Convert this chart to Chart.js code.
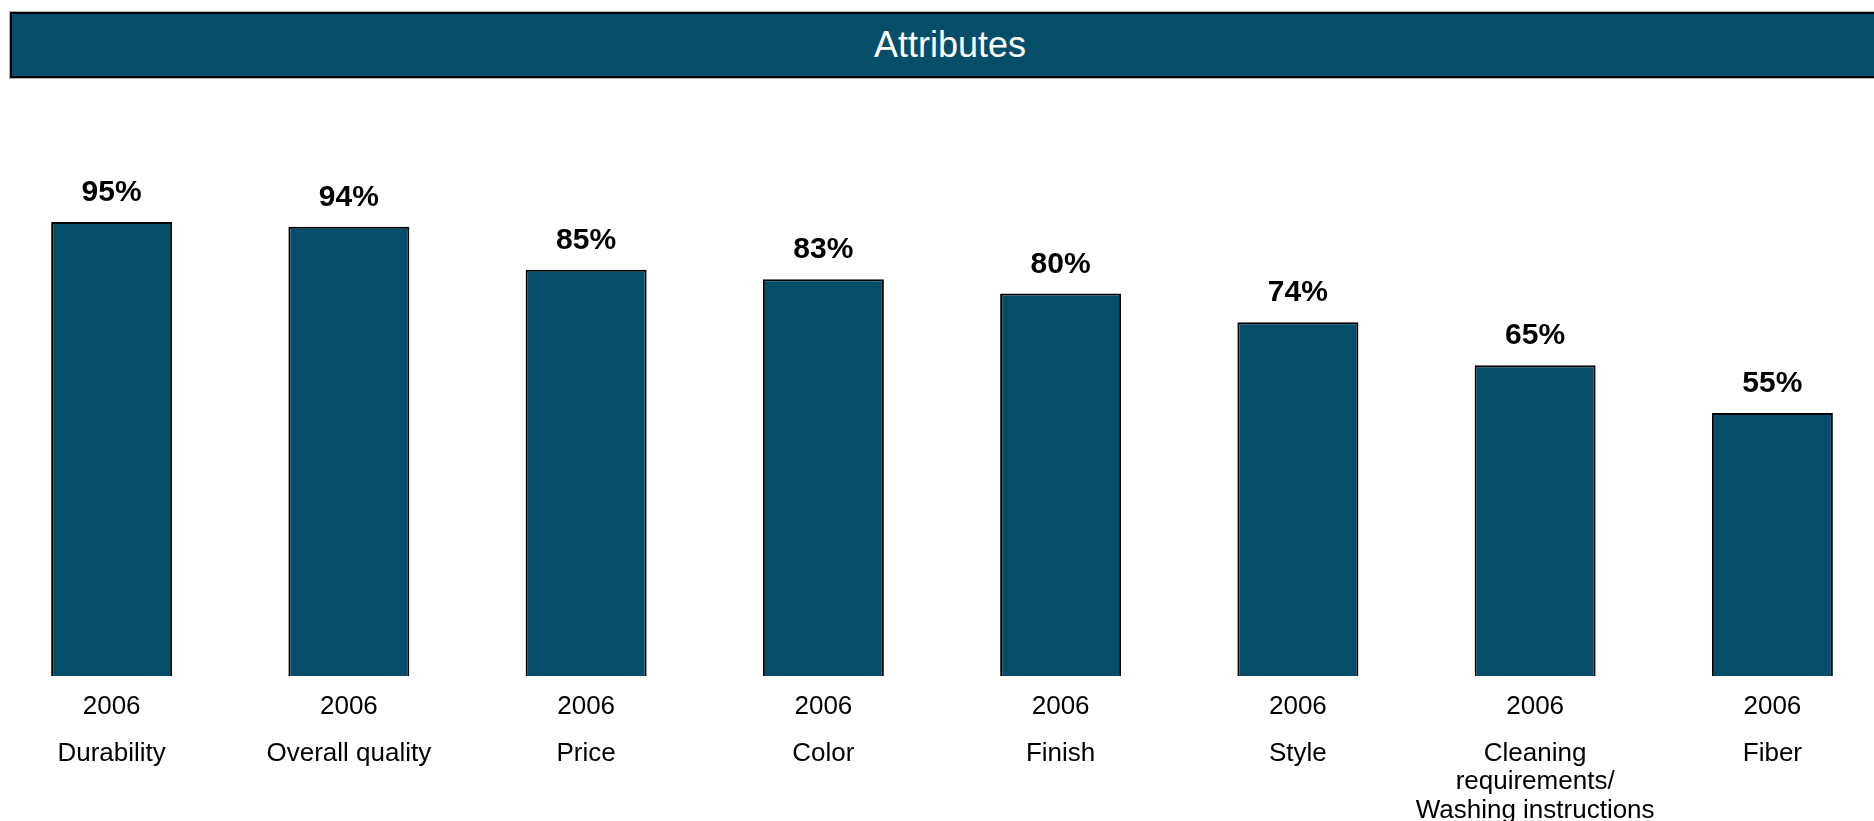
<!DOCTYPE html>
<html>
<head>
<meta charset="utf-8">
<script src="https://cdn.jsdelivr.net/npm/chart.js@4"></script>
<style>
  html, body { margin: 0; padding: 0; background: #fff; overflow: hidden; }
  body { width: 1874px; height: 821px; position: relative; font-family: "Liberation Sans", Arial, sans-serif; }
  .header {
    position: absolute; left: 10px; top: 12px; width: 1880px; height: 66px;
    box-sizing: border-box; background: #044e69;
    border: 2px solid #000; box-shadow: 0 0 0 1px #b0b0b0;
    color: #fff; font-size: 36px; line-height: 62px; text-align: center;
  }
  .wrap { position: absolute; left: -7px; top: 0; width: 1898px; height: 827px; }
</style>
</head>
<body>
<div class="header">Attributes</div>
<div class="wrap"><canvas id="barChart"></canvas></div>
<script>
// 属性ごとの評価（2006年）
const attributes = ['Durability', 'Overall quality', 'Price', 'Color', 'Finish', 'Style',
  ['Cleaning', 'requirements/', 'Washing instructions'], 'Fiber'];
const years = ['2006', '2006', '2006', '2006', '2006', '2006', '2006', '2006'];
const shares = [95, 94, 85, 83, 80, 74, 65, 55];

const BAR_COLOR = '#044e69';
const FONT = '"Liberation Sans", Arial, sans-serif';

// 棒の上にパーセント表示
const valueLabels = {
  id: 'valueLabels',
  afterDatasetsDraw(chart) {
    const ctx = chart.ctx;
    const meta = chart.getDatasetMeta(0);
    ctx.save();
    ctx.font = 'bold 30px ' + FONT;
    ctx.fillStyle = '#000';
    ctx.textAlign = 'center';
    ctx.textBaseline = 'alphabetic';
    meta.data.forEach((bar, i) => {
      ctx.fillText(shares[i] + '%', bar.x, bar.y - 21);
    });
    ctx.restore();
  }
};

new Chart(document.getElementById('barChart'), {
  type: 'bar',
  data: {
    labels: attributes,
    datasets: [{
      data: shares,
      backgroundColor: BAR_COLOR,
      borderColor: '#000',
      borderWidth: 2,
      barPercentage: 0.51,
      categoryPercentage: 1
    }]
  },
  options: {
    responsive: true,
    maintainAspectRatio: false,
    animation: false,
    layout: { padding: { top: 198, bottom: 0, left: 0, right: 0 } },
    plugins: { legend: { display: false }, tooltip: { enabled: false } },
    scales: {
      y: { display: false, min: 0, max: 100 },
      x: {
        type: 'category',
        labels: years,
        weight: 0,
        grid: { display: false, drawTicks: false },
        border: { display: false },
        ticks: { color: '#000', padding: 15, maxRotation: 0, autoSkip: false, font: { family: FONT, size: 26, lineHeight: 1.2 } }
      },
      x2: {
        type: 'category',
        position: 'bottom',
        labels: attributes,
        weight: 1,
        offset: true,
        grid: { display: false, drawTicks: false },
        border: { display: false },
        ticks: { color: '#000', padding: 2, maxRotation: 0, autoSkip: false, font: { family: FONT, size: 26, lineHeight: 1.1 } }
      }
    }
  },
  plugins: [valueLabels]
});
</script>
</body>
</html>
